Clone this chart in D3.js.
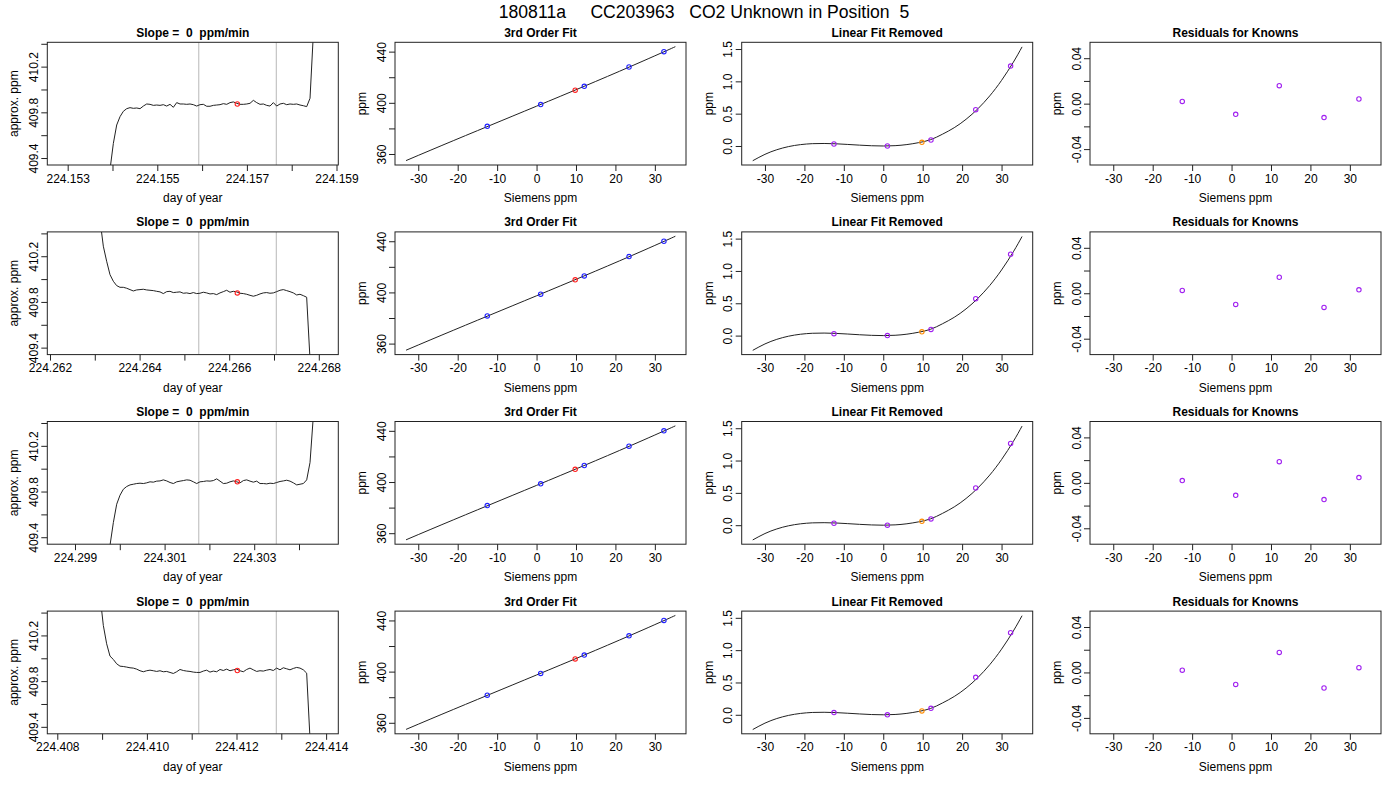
<!DOCTYPE html>
<html>
<head>
<meta charset="utf-8">
<script src="https://cdn.jsdelivr.net/npm/d3@7"></script>
<style>
  body { margin: 0; background: #fff; }
  svg text { font-family: "Liberation Sans", Arial, sans-serif; white-space: pre; }
</style>
</head>
<body>
<svg id="chart" width="1400" height="800"></svg>
<script>
/* run info */
var mainTitle = "180811a     CC203963   CO2 Unknown in Position  5"
var slopeTitle = "Slope =  0  ppm/min"

/* column 1: analyzer trace, one per injection */
var dayLims = [[224.152545, 224.159040], [224.261940, 224.268435], [224.298382, 224.304877], [224.407777, 224.414272]]
var dayTicks = [
	[224.153, 224.154, 224.155, 224.156, 224.157, 224.158, 224.159],
	[224.262, 224.263, 224.264, 224.265, 224.266, 224.267, 224.268],
	[224.299, 224.300, 224.301, 224.302, 224.303, 224.304],
	[224.408, 224.409, 224.410, 224.411, 224.412, 224.413, 224.414]
]
var traceYLim = [409.339, 410.413]
var traceYTicks = [409.4, 409.6, 409.8, 410.0, 410.2, 410.4]
var traceStep = 0.0000744
var traceStart = [224.153945, 224.263116, 224.299782, 224.408953]

var trace1 = [409.30, 409.528, 409.689, 409.762, 409.809, 409.832, 409.841, 409.835, 409.838, 409.832,
	409.855, 409.873, 409.870, 409.861, 409.864, 409.861, 409.867, 409.855, 409.870, 409.844,
	409.885, 409.873, 409.873, 409.870, 409.873, 409.867, 409.855, 409.867, 409.870, 409.853,
	409.853, 409.861, 409.864, 409.867, 409.876, 409.870, 409.885, 409.891, 409.879, 409.870,
	409.870, 409.873, 409.879, 409.905, 409.885, 409.870, 409.873, 409.861, 409.855, 409.885,
	409.855, 409.873, 409.879, 409.867, 409.873, 409.870, 409.873, 409.864, 409.858, 409.850,
	409.923, 410.49]
var trace2 = [410.52, 410.288, 410.156, 410.039, 409.981, 409.943, 409.928, 409.928, 409.920, 409.908,
	409.896, 409.905, 409.908, 409.911, 409.905, 409.902, 409.899, 409.893, 409.888, 409.873,
	409.890, 409.893, 409.882, 409.885, 409.888, 409.876, 409.879, 409.873, 409.882, 409.873,
	409.876, 409.885, 409.879, 409.870, 409.873, 409.864, 409.879, 409.890, 409.902, 409.885,
	409.893, 409.888, 409.876, 409.873, 409.867, 409.858, 409.850, 409.858, 409.870, 409.879,
	409.882, 409.876, 409.879, 409.890, 409.902, 409.908, 409.899, 409.890, 409.879, 409.861,
	409.867, 409.855, 409.841, 409.30, 408.8]
var trace3 = [409.33, 409.528, 409.689, 409.768, 409.820, 409.844, 409.858, 409.864, 409.870, 409.873,
	409.870, 409.876, 409.885, 409.882, 409.891, 409.893, 409.902, 409.893, 409.879, 409.870,
	409.885, 409.891, 409.896, 409.902, 409.899, 409.885, 409.870, 409.885, 409.888, 409.893,
	409.891, 409.896, 409.911, 409.891, 409.870, 409.873, 409.885, 409.893, 409.885, 409.876,
	409.896, 409.902, 409.891, 409.882, 409.891, 409.870, 409.870, 409.867, 409.873, 409.870,
	409.879, 409.888, 409.893, 409.899, 409.891, 409.876, 409.858, 409.864, 409.870, 409.902,
	410.054, 410.463]
var trace4 = [410.55, 410.288, 410.127, 410.019, 409.990, 409.952, 409.931, 409.928, 409.923, 409.917,
	409.914, 409.905, 409.891, 409.882, 409.891, 409.896, 409.891, 409.885, 409.891, 409.882,
	409.885, 409.876, 409.867, 409.882, 409.902, 409.893, 409.888, 409.885, 409.879, 409.876,
	409.876, 409.888, 409.896, 409.879, 409.888, 409.882, 409.902, 409.893, 409.905, 409.891,
	409.899, 409.905, 409.891, 409.882, 409.902, 409.914, 409.899, 409.885, 409.891, 409.888,
	409.896, 409.902, 409.893, 409.914, 409.899, 409.917, 409.908, 409.899, 409.911, 409.920,
	409.914, 409.899, 409.870, 409.30, 408.8]
var traces = [trace1, trace2, trace3, trace4]

var windowStart = [224.155925, 224.265320, 224.301762, 224.411157]
var windowEnd = [224.157657, 224.267052, 224.303494, 224.412889]
var unkTime = [224.156786, 224.266181, 224.302623, 224.412018]
var unkPPM = [409.873, 409.879, 409.885, 409.893]

/* columns 2-4: calibration against the knowns */
var siemensLim = [-35.9, 37.9]
var siemensTicks = [-30, -20, -10, 0, 10, 20, 30]
var siemensKnown = [-12.5, 1.05, 12.1, 23.45, 32.3]
var siemensUnk = 9.8
var ppmKnown = [381.6, 398.6, 412.9, 428.0, 440.0]
var ppmLim = [351.4, 447.3]
var ppmTicks = [360, 380, 400, 420, 440]

var fitX = [-33.1, -30, -27, -24, -21, -18, -15, -12, -9, -6, -3, 0, 3, 6, 9, 12, 15, 18, 21, 24, 27, 30, 33, 35.2]
var fitPPM = [354.84, 358.90, 362.80, 366.69, 370.55, 374.41, 378.24, 382.06, 385.89, 389.71, 393.54, 397.37,
	401.21, 405.06, 408.92, 412.81, 416.72, 420.65, 424.62, 428.62, 432.65, 436.73, 440.84, 443.89]
var fitDev = [-0.228, -0.129, -0.058, -0.009, 0.021, 0.036, 0.039, 0.034, 0.024, 0.013, 0.004, 0.0,
	0.005, 0.022, 0.052, 0.098, 0.182, 0.283, 0.413, 0.576, 0.775, 1.015, 1.297, 1.533]

var devLim = [-0.294, 1.604]
var devTicks = [0, 0.5, 1.0, 1.5]
var devKnown = [
	[0.031, 0.0, 0.093, 0.562, 1.237],
	[0.030, 0.0, 0.095, 0.570, 1.260],
	[0.030, 0.0, 0.097, 0.575, 1.265],
	[0.035, 0.0, 0.100, 0.580, 1.270]
]
var devUnk = [0.057, 0.058, 0.060, 0.060]

var residLim = [-0.054, 0.054]
var residTicks = [-0.04, -0.02, 0, 0.02, 0.04]
var resid = [
	[0.002, -0.0094, 0.0158, -0.0123, 0.0041],
	[0.0025, -0.0098, 0.0141, -0.0125, 0.003],
	[0.002, -0.011, 0.0186, -0.0147, 0.0046],
	[0.002, -0.0105, 0.0176, -0.0137, 0.0042]
]

/* layout */
var colLeft = [47.3, 395, 741.7, 1090],
		rowTop = [42.3, 231.9, 421.5, 611.1],
		boxW = 291, boxH = 122.7

var svg = d3.select("#chart")

svg.append("defs").append("clipPath").attr("id", "box")
		.append("rect").attr("width", boxW).attr("height", boxH)

svg.append("text")
		.attr("x", 704).attr("y", 12)
		.attr("text-anchor", "middle")
		.attr("dominant-baseline", "central")
		.style("font-size", "17.6px")
		.text(mainTitle)

function fmt(p){ return function(d){ return d3.format(p)(d).replace("\u2212", "-") } }

// R-style frame: box, outward ticks, rotated y labels, titles
function panel(c, r, x, y, o){
	var g = svg.append("g").attr("transform", "translate(" + colLeft[c] + "," + rowTop[r] + ")")

	var xa = g.append("g").attr("transform", "translate(0," + boxH + ")")
			.call(d3.axisBottom(x).tickValues(o.xt).tickSize(6).tickSizeOuter(0)
				.tickFormat(function(d, i){ return o.xEvery && i % 2 ? "" : o.xf(d) }))
	xa.select(".domain").remove()
	xa.selectAll("text").attr("y", 13.5).attr("dy", null)
			.attr("dominant-baseline", "central").style("font-size", "12px").style("font-family", null)

	var ya = g.append("g")
			.call(d3.axisLeft(y).tickValues(o.yt).tickSize(6).tickSizeOuter(0)
				.tickFormat(function(d, i){ return o.yEvery && i % 2 ? "" : o.yf(d) }))
	ya.select(".domain").remove()
	ya.selectAll("text").attr("x", null).attr("dy", null)
			.attr("transform", "translate(-13.5,0) rotate(-90)")
			.attr("text-anchor", "middle").attr("dominant-baseline", "central")
			.style("font-size", "12px").style("font-family", null)
	g.selectAll(".tick line").attr("stroke", "#222")

	g.append("text").attr("x", boxW/2).attr("y", -9.5)
			.attr("text-anchor", "middle").attr("dominant-baseline", "central")
			.style("font-size", "12px").style("font-weight", "bold").text(o.title)
	g.append("text").attr("x", boxW/2).attr("y", boxH + 33)
			.attr("text-anchor", "middle").attr("dominant-baseline", "central")
			.style("font-size", "12px").text(o.xlab)
	g.append("text").attr("transform", "translate(-33," + boxH/2 + ") rotate(-90)")
			.attr("text-anchor", "middle").attr("dominant-baseline", "central")
			.style("font-size", "12px").text(o.ylab)
	return g
}

function box(g){
	g.append("rect").attr("width", boxW).attr("height", boxH)
			.attr("fill", "none").attr("stroke", "#222").attr("stroke-width", 1)
}

function circles(g, xs, ys, x, y, color){
	g.selectAll(null).data(xs).enter().append("circle")
			.attr("cx", function(d){ return x(d) })
			.attr("cy", function(d, i){ return y(ys[i]) })
			.attr("r", 2.2)
			.attr("fill", "none").attr("stroke", color).attr("stroke-width", 1.1)
}

var sx = d3.scaleLinear().domain(siemensLim).range([0, boxW])

for (var r = 0; r < 4; r++){
	/* trace */
	var tx = d3.scaleLinear().domain(dayLims[r]).range([0, boxW]),
			ty = d3.scaleLinear().domain(traceYLim).range([boxH, 0])
	var g1 = panel(0, r, tx, ty, {xt: dayTicks[r], xEvery: true, xf: fmt(".3f"),
		yt: traceYTicks, yEvery: true, yf: fmt(".1f"),
		title: slopeTitle, xlab: "day of year", ylab: "approx. ppm"})
	var plot = g1.append("g").attr("clip-path", "url(#box)")
	plot.selectAll(null).data([windowStart[r], windowEnd[r]]).enter().append("line")
			.attr("x1", tx).attr("x2", tx).attr("y1", 0).attr("y2", boxH)
			.attr("stroke", "#c4c4c4").attr("stroke-width", 1.2)
	var start = traceStart[r]
	plot.append("path").datum(traces[r])
			.attr("d", d3.line()
				.x(function(d, i){ return tx(start + i*traceStep) })
				.y(function(d){ return ty(d) }))
			.attr("fill", "none").attr("stroke", "#222").attr("stroke-width", 1)
	circles(plot, [unkTime[r]], [unkPPM[r]], tx, ty, "#ff2020")
	box(g1)

	/* 3rd order fit */
	var py = d3.scaleLinear().domain(ppmLim).range([boxH, 0])
	var g2 = panel(1, r, sx, py, {xt: siemensTicks, xf: fmt("d"),
		yt: ppmTicks, yEvery: true, yf: fmt("d"),
		title: "3rd Order Fit", xlab: "Siemens ppm", ylab: "ppm"})
	g2.append("path").datum(fitX)
			.attr("d", d3.line().curve(d3.curveNatural)
				.x(function(d){ return sx(d) })
				.y(function(d, i){ return py(fitPPM[i]) }))
			.attr("fill", "none").attr("stroke", "#222").attr("stroke-width", 1)
	circles(g2, siemensKnown, ppmKnown, sx, py, "#2020ff")
	circles(g2, [siemensUnk], [unkPPM[r]], sx, py, "#ff2020")
	box(g2)

	/* linear fit removed */
	var dy = d3.scaleLinear().domain(devLim).range([boxH, 0])
	var g3 = panel(2, r, sx, dy, {xt: siemensTicks, xf: fmt("d"),
		yt: devTicks, yf: fmt(".1f"),
		title: "Linear Fit Removed", xlab: "Siemens ppm", ylab: "ppm"})
	g3.append("path").datum(fitX)
			.attr("d", d3.line().curve(d3.curveNatural)
				.x(function(d){ return sx(d) })
				.y(function(d, i){ return dy(fitDev[i]) }))
			.attr("fill", "none").attr("stroke", "#222").attr("stroke-width", 1)
	circles(g3, siemensKnown, devKnown[r], sx, dy, "#a020f0")
	circles(g3, [siemensUnk], [devUnk[r]], sx, dy, "#ff8c00")
	box(g3)

	/* residuals */
	var ry = d3.scaleLinear().domain(residLim).range([boxH, 0])
	var g4 = panel(3, r, sx, ry, {xt: siemensTicks, xf: fmt("d"),
		yt: residTicks, yEvery: true, yf: fmt(".2f"),
		title: "Residuals for Knowns", xlab: "Siemens ppm", ylab: "ppm"})
	circles(g4, siemensKnown, resid[r], sx, ry, "#a020f0")
	box(g4)
}
</script>
</body>
</html>
